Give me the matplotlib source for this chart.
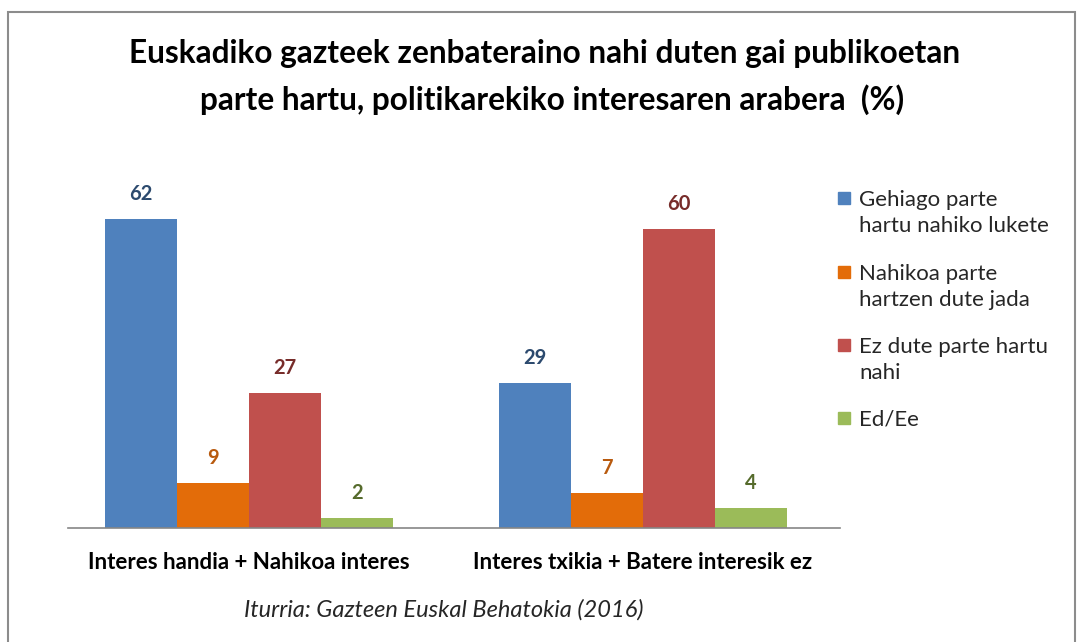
import numpy as np
import matplotlib.pyplot as plt
from matplotlib.patches import Rectangle

categories = ["Interes handia + Nahikoa interes", "Interes txikia + Batere interesik ez"]
series_names = ["Gehiago parte\nhartu nahiko lukete", "Nahikoa parte\nhartzen dute jada",
                "Ez dute parte hartu\nnahi", "Ed/Ee"]
gehiago = [62, 29]
nahikoa = [9, 7]
ez_dute = [27, 60]
ed_ee = [2, 4]

bar_colors = ["#4F81BD", "#E36C09", "#C0504D", "#9BBB59"]
label_colors = ["#2C4A6E", "#B85A0E", "#772C2A", "#566B2C"]

plt.rcParams['font.family'] = ['Lato', 'DejaVu Sans']

fig = plt.figure(figsize=(10.84, 6.42), dpi=100)
W, H = 1084, 642

# chart border
fig.patches.append(Rectangle((8 / W, -0.1), (1075 - 8) / W, 1.1 - 12 / H,
                             transform=fig.transFigure, fill=False,
                             edgecolor="#8C8C8C", linewidth=1.5))

ax = fig.add_axes([68 / W, 1 - 528 / H, (840 - 68) / W, (528 - 179) / H])

x = np.arange(len(categories))
width = 0.183
all_series = [gehiago, nahikoa, ez_dute, ed_ee]
for i, vals in enumerate(all_series):
    pos = x + (i - 1.5) * width
    ax.bar(pos, vals, width, color=bar_colors[i])
    for p, v in zip(pos, vals):
        ax.text(p, v + 3.0, str(v), ha="center", va="bottom", fontsize=14.5,
                fontweight="bold", color=label_colors[i])

ax.set_xlim(-0.46, 1.5)
ax.set_ylim(0, 70)
ax.set_yticks([])
ax.set_xticks(x)
ax.set_xticklabels(categories, fontsize=16, fontweight="bold")
ax.tick_params(axis="x", length=0, pad=17)
for s in ["top", "right", "left"]:
    ax.spines[s].set_visible(False)
ax.spines["bottom"].set_color("#868686")
ax.spines["bottom"].set_linewidth(1.2)

fig.text(545 / W, 1 - 54 / H, "Euskadiko gazteek zenbateraino nahi duten gai publikoetan",
         ha="center", va="center", fontsize=22.8, fontweight="bold")
fig.text(552 / W, 1 - 100 / H, "parte hartu, politikarekiko interesaren arabera  (%)",
         ha="center", va="center", fontsize=22.8, fontweight="bold")

# legend, square next to the first line of each entry
legend_y = [198, 272, 345, 418]
for name, col, ly in zip(series_names, bar_colors, legend_y):
    fig.patches.append(Rectangle((838 / W, 1 - (ly + 6) / H), 12 / W, 12 / H,
                                 transform=fig.transFigure, color=col))
    fig.text(859 / W, 1 - (ly - 8) / H, name, ha="left", va="top",
             fontsize=16, linespacing=1.35, color="#262626")

fig.text(444 / W, 1 - 610 / H, "Iturria: Gazteen Euskal Behatokia (2016)",
         ha="center", va="center", fontsize=17, fontstyle="italic", color="#262626")

fig.savefig("out.png", dpi=100)
